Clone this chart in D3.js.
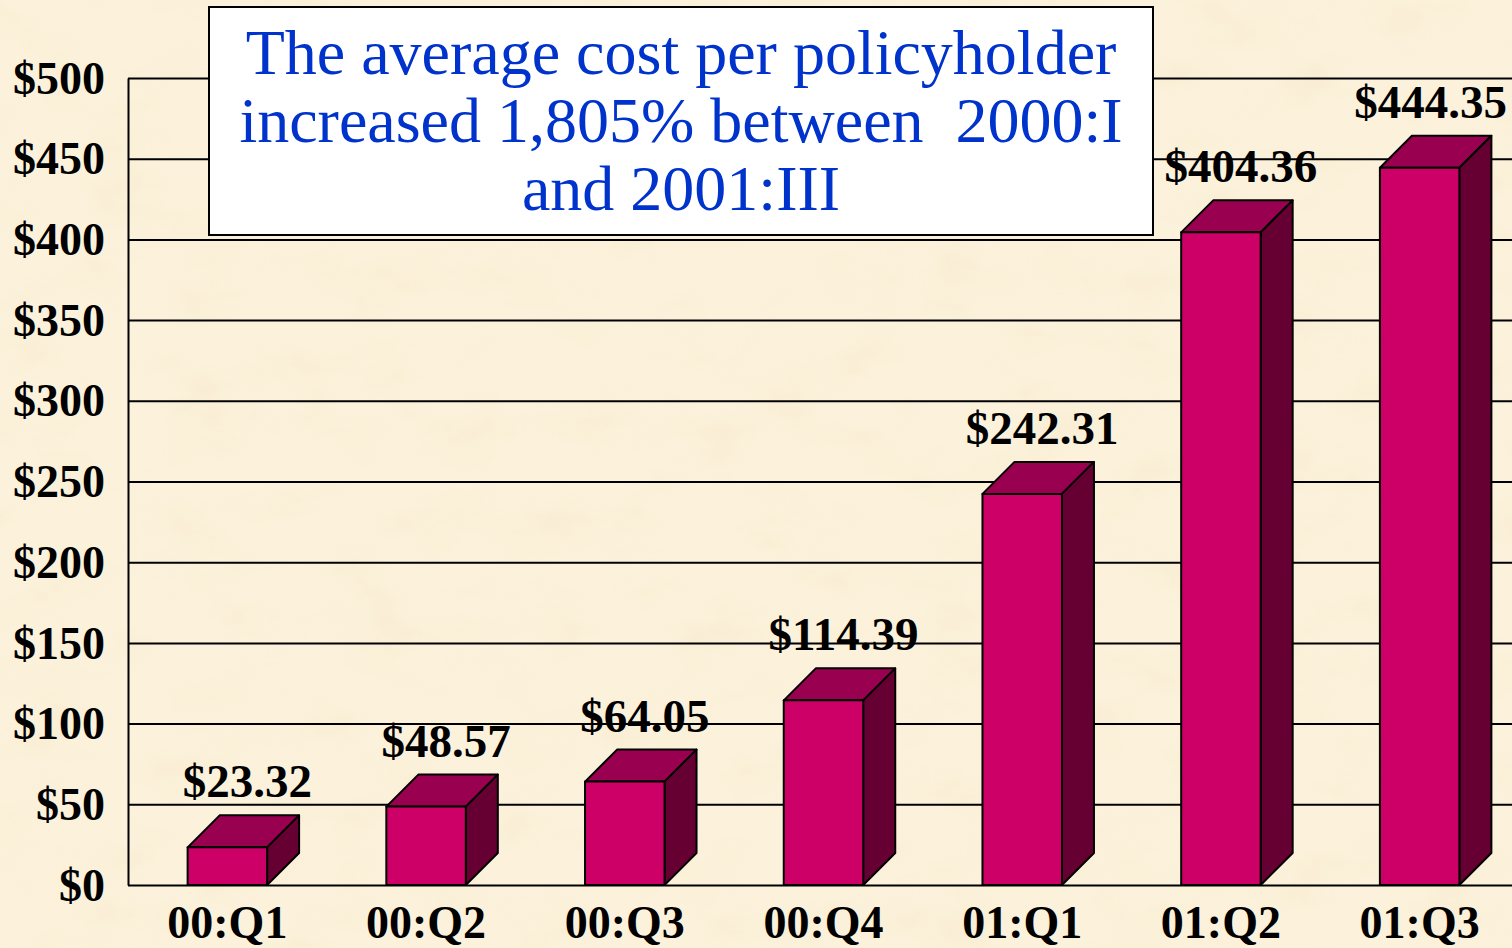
<!DOCTYPE html>
<html>
<head>
<meta charset="utf-8">
<script src="https://cdn.jsdelivr.net/npm/d3@7"></script>
<style>
  html, body { margin: 0; padding: 0; background: #fbf0d8; }
  svg { display: block; }
</style>
</head>
<body>
<script>
// chart data
var quarters = ["00:Q1", "00:Q2", "00:Q3", "00:Q4", "01:Q1", "01:Q2", "01:Q3"];
var costs = [23.32, 48.57, 64.05, 114.39, 242.31, 404.36, 444.35];
var yTicks = [0, 50, 100, 150, 200, 250, 300, 350, 400, 450, 500];
var titleLines = [
    "The average cost per policyholder",
    "increased 1,805% between  2000:I",
    "and 2001:III"
];

var W = 1512, H = 948;
var margin = { top: 78, right: -7, bottom: 63, left: 128 },
    width = W - margin.left - margin.right,
    height = H - margin.top - margin.bottom,
    depth = 32;

var colFront = "#cc0066", colTop = "#990050", colSide = "#660033";
var serif = "'Liberation Serif', 'Times New Roman', serif";

var svg = d3.select("body").append("svg")
    .attr("width", W)
    .attr("height", H);

// parchment texture
var defs = svg.append("defs");
var filt = defs.append("filter").attr("id", "paper")
    .attr("x", 0).attr("y", 0).attr("width", "100%").attr("height", "100%");
filt.append("feTurbulence")
    .attr("type", "fractalNoise")
    .attr("baseFrequency", "0.012 0.02")
    .attr("numOctaves", 4)
    .attr("seed", 7);
filt.append("feColorMatrix")
    .attr("type", "matrix")
    .attr("values", "0 0 0 0 0.85  0 0 0 0 0.72  0 0 0 0 0.45  0 0 0 -1.1 0.62");
filt.append("feComposite").attr("in2", "SourceGraphic").attr("operator", "in");

svg.append("rect").attr("width", W).attr("height", H).attr("fill", "#fcf2dc");
svg.append("rect").attr("width", W).attr("height", H).attr("fill", "#fcf2dc")
    .attr("filter", "url(#paper)").attr("opacity", 0.4);

var x = d3.scaleBand()
    .domain(quarters)
    .range([0, width])
    .paddingInner(0.6)
    .paddingOuter(0.3);

var y = d3.scaleLinear()
    .domain([0, 500])
    .range([height, 0]);

var g = svg.append("g")
    .attr("transform", "translate(" + margin.left + "," + margin.top + ")");

// y axis + gridlines
var gY = g.append("g")
    .call(d3.axisLeft(y)
        .tickValues(yTicks)
        .tickFormat(function (d) { return "$" + d; })
        .tickSize(-width)
        .tickSizeOuter(0)
        .tickPadding(23));
gY.selectAll(".tick line").attr("stroke", "#000").attr("stroke-width", 2);
gY.select(".domain").attr("stroke", "#000").attr("stroke-width", 2);
gY.selectAll(".tick text")
    .attr("fill", "#000")
    .attr("dy", "0.33em")
    .style("font-family", serif)
    .style("font-weight", "bold")
    .style("font-size", "46px");

// x labels
g.selectAll(".xlab")
    .data(quarters)
    .enter().append("text")
    .attr("class", "xlab")
    .attr("x", function (d) { return x(d) + x.bandwidth() / 2; })
    .attr("y", height + 53)
    .attr("text-anchor", "middle")
    .style("font-family", serif)
    .style("font-weight", "bold")
    .style("font-size", "46px")
    .text(function (d) { return d; });

// 3d bars
var bw = x.bandwidth();
var bars = g.selectAll(".bar")
    .data(costs)
    .enter().append("g")
    .attr("class", "bar");

function pts(arr) { return arr.map(function (p) { return p.join(","); }).join(" "); }

bars.append("polygon")
    .attr("points", function (d, i) {
        var x0 = x(quarters[i]), y0 = y(d);
        return pts([[x0, y0], [x0 + depth, y0 - depth], [x0 + bw + depth, y0 - depth], [x0 + bw, y0]]);
    })
    .attr("fill", colTop);

bars.append("polygon")
    .attr("points", function (d, i) {
        var x1 = x(quarters[i]) + bw, y0 = y(d);
        return pts([[x1, y0], [x1 + depth, y0 - depth], [x1 + depth, height - depth], [x1, height]]);
    })
    .attr("fill", colSide);

bars.append("rect")
    .attr("x", function (d, i) { return x(quarters[i]); })
    .attr("y", function (d) { return y(d); })
    .attr("width", bw)
    .attr("height", function (d) { return height - y(d); })
    .attr("fill", colFront);

bars.selectAll("polygon, rect")
    .attr("stroke", "#000")
    .attr("stroke-width", 2)
    .attr("stroke-linejoin", "round");

// value labels, kept inside the right edge of the page
var maxRight = W - margin.left - 5;
g.selectAll(".vlab")
    .data(costs)
    .enter().append("text")
    .attr("class", "vlab")
    .attr("y", function (d) { return y(d) - depth - 18; })
    .attr("text-anchor", "middle")
    .style("font-family", serif)
    .style("font-weight", "bold")
    .style("font-size", "47px")
    .text(function (d) { return "$" + d.toFixed(2); })
    .attr("x", function (d, i) {
        var cx = x(quarters[i]) + bw / 2 + 20,
            half = this.getComputedTextLength() / 2;
        return Math.min(cx, maxRight - half);
    });

// title box
var box = svg.append("g");
box.append("rect")
    .attr("x", 209).attr("y", 7)
    .attr("width", 944).attr("height", 228)
    .attr("fill", "#fff")
    .attr("stroke", "#000")
    .attr("stroke-width", 2);

box.selectAll("text")
    .data(titleLines)
    .enter().append("text")
    .attr("x", 681)
    .attr("y", function (d, i) { return 74 + i * 68; })
    .attr("text-anchor", "middle")
    .attr("fill", "#0033cc")
    .style("font-family", serif)
    .style("font-size", "64px")
    .style("white-space", "pre")
    .text(function (d) { return d; });
</script>
</body>
</html>
